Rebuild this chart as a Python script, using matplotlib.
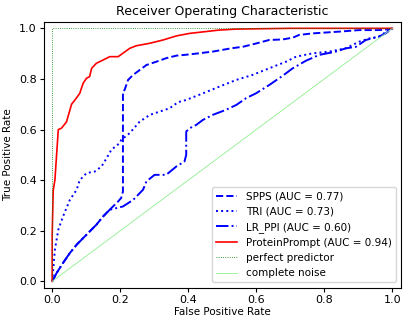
import matplotlib
matplotlib.use('Agg')
import matplotlib.pyplot as plt

# ROC points per model (fpr, tpr)
spps_fpr = [0.0, 0.013, 0.032, 0.052, 0.072, 0.091, 0.11, 0.13, 0.15, 0.169, 0.194, 0.203, 0.208, 0.208, 0.208,
            0.213, 0.223, 0.238, 0.257, 0.277, 0.306, 0.335, 0.365, 0.404, 0.472, 0.526, 0.56, 0.599, 0.638,
            0.677, 0.707, 0.726, 0.765, 0.844, 0.902, 0.96, 0.995, 1.0]
spps_tpr = [0.0, 0.033, 0.073, 0.112, 0.145, 0.171, 0.197, 0.224, 0.257, 0.283, 0.316, 0.33, 0.355, 0.56, 0.75,
            0.757, 0.796, 0.816, 0.835, 0.855, 0.868, 0.882, 0.892, 0.897, 0.908, 0.921, 0.927, 0.94, 0.954,
            0.956, 0.963, 0.974, 0.98, 0.987, 0.993, 0.993, 0.997, 1.0]

tri_fpr = [0.0, 0.008, 0.018, 0.032, 0.052, 0.072, 0.081, 0.101, 0.125, 0.145, 0.16, 0.174, 0.198, 0.203,
           0.228, 0.257, 0.287, 0.316, 0.345, 0.37, 0.394, 0.443, 0.492, 0.541, 0.589, 0.638, 0.687, 0.717,
           0.765, 0.814, 0.863, 0.902, 0.932, 0.96, 0.99, 1.0]
tri_tpr = [0.0, 0.125, 0.204, 0.257, 0.322, 0.362, 0.40, 0.428, 0.434, 0.454, 0.487, 0.52, 0.546, 0.559,
           0.586, 0.631, 0.658, 0.671, 0.684, 0.708, 0.717, 0.743, 0.77, 0.796, 0.816, 0.842, 0.868, 0.888,
           0.901, 0.908, 0.921, 0.947, 0.96, 0.967, 0.993, 1.0]

lr_fpr = [0.0, 0.013, 0.032, 0.052, 0.072, 0.091, 0.11, 0.13, 0.15, 0.169, 0.19, 0.208, 0.238, 0.267, 0.277,
          0.301, 0.335, 0.365, 0.389, 0.394, 0.394, 0.404, 0.423, 0.443, 0.472, 0.511, 0.541, 0.57, 0.599,
          0.638, 0.677, 0.707, 0.746, 0.785, 0.834, 0.863, 0.893, 0.922, 0.96, 0.98, 1.0]
lr_tpr = [0.0, 0.033, 0.073, 0.112, 0.145, 0.171, 0.197, 0.224, 0.257, 0.283, 0.29, 0.296, 0.322, 0.362, 0.395,
          0.421, 0.421, 0.454, 0.474, 0.5, 0.592, 0.605, 0.618, 0.638, 0.658, 0.678, 0.697, 0.724, 0.743,
          0.776, 0.812, 0.842, 0.872, 0.895, 0.908, 0.921, 0.927, 0.954, 0.967, 0.98, 1.0]

pp_fpr = [0.0, 0.0, 0.003, 0.008, 0.013, 0.018, 0.027, 0.042, 0.057, 0.067, 0.081, 0.091, 0.101, 0.11, 0.116,
          0.13, 0.15, 0.169, 0.194, 0.228, 0.247, 0.287, 0.326, 0.365, 0.404, 0.49, 0.54, 0.7, 1.0]
pp_tpr = [0.0, 0.18, 0.36, 0.40, 0.50, 0.60, 0.605, 0.63, 0.70, 0.717, 0.743, 0.783, 0.803, 0.809, 0.842,
          0.862, 0.875, 0.888, 0.888, 0.921, 0.931, 0.941, 0.954, 0.97, 0.98, 0.993, 0.997, 1.0, 1.0]

auc = {'SPPS': 0.77, 'TRI': 0.73, 'LR_PPI': 0.60, 'ProteinPrompt': 0.94}

fig = plt.figure(figsize=(4.12, 3.26), dpi=100)
ax = fig.add_axes([0.106, 0.1175, 0.867, 0.815])

ax.plot(spps_fpr, spps_tpr, color='b', linestyle='--', lw=1.4, label='SPPS (AUC = %0.2f)' % auc['SPPS'])
ax.plot(tri_fpr, tri_tpr, color='b', linestyle=':', lw=1.4, label='TRI (AUC = %0.2f)' % auc['TRI'])
ax.plot(lr_fpr, lr_tpr, color='b', linestyle='-.', lw=1.4, label='LR_PPI (AUC = %0.2f)' % auc['LR_PPI'])
ax.plot(pp_fpr, pp_tpr, color='r', lw=1.2, label='ProteinPrompt (AUC = %0.2f)' % auc['ProteinPrompt'])
ax.plot([0, 0, 1], [0, 1, 1], color='green', linestyle=':', lw=0.6, label='perfect predictor')
ax.plot([0, 1], [0, 1], color='lightgreen', lw=0.6, label='complete noise')

ax.set_xlim(-0.025, 1.025)
ax.set_ylim(-0.025, 1.025)
ax.set_title('Receiver Operating Characteristic', fontsize=9, pad=5)
ax.set_xlabel('False Positive Rate', fontsize=7.5, labelpad=2)
ax.set_ylabel('True Positive Rate', fontsize=7.5, labelpad=4)
ax.tick_params(labelsize=8, length=3, pad=2)
ax.legend(loc='lower right', fontsize=7.5)

fig.savefig('out.png', dpi=100)
